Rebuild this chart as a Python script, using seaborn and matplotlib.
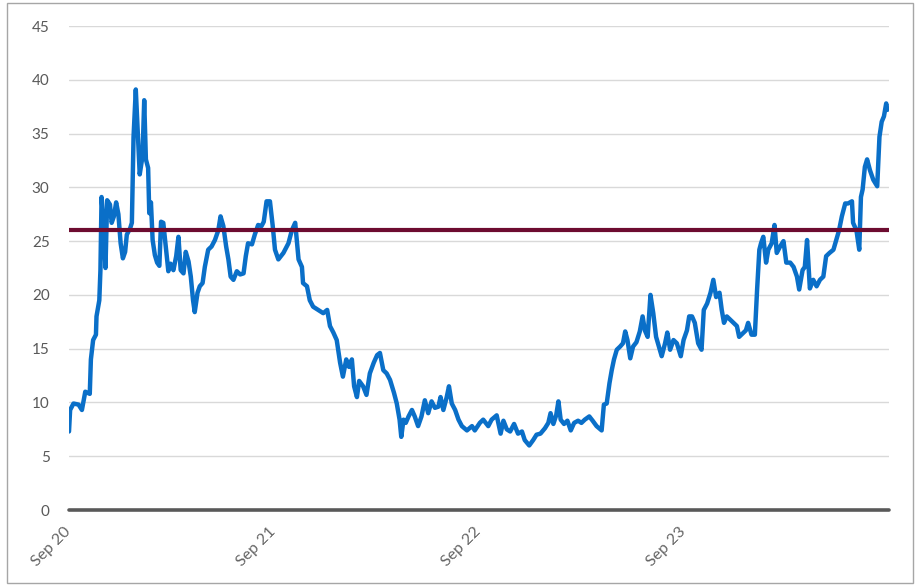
import pandas as pd
import matplotlib
matplotlib.use("Agg")
import matplotlib.pyplot as plt
from matplotlib.patches import Rectangle
import seaborn as sns

# days after 1 Sep 2020, and the value
start = "2020-09-01"
days = [0, 2, 8, 17, 23, 29, 37, 39, 43, 48, 49, 54, 56, 58, 61, 65, 68, 73, 76, 80,
        84, 88, 92, 96, 100, 103, 109, 112, 115, 119, 123, 126, 131, 134, 137, 141, 143, 146, 149, 153,
        157, 161, 164, 168, 173, 177, 181, 186, 191, 195, 199, 204, 208, 213, 217, 221, 224, 229, 233, 238,
        242, 248, 254, 260, 266, 270, 275, 280, 284, 288, 293, 299, 305, 311, 315, 319, 326, 331, 337, 343,
        347, 352, 358, 363, 367, 373, 382, 391, 397, 403, 409, 415, 417, 424, 429, 435, 444, 453, 460, 465,
        471, 477, 483, 488, 494, 499, 504, 508, 513, 517, 524, 530, 536, 543, 549, 554, 560, 566, 572, 579,
        584, 589, 592, 596, 600, 605, 611, 616, 622, 628, 634, 640, 646, 652, 658, 662, 667, 673, 677, 682,
        688, 694, 700, 709, 718, 723, 732, 738, 747, 753, 762, 769, 774, 780, 786, 793, 800, 807, 812, 820,
        827, 833, 840, 848, 854, 858, 863, 868, 872, 876, 882, 888, 894, 900, 907, 913, 919, 927, 933, 940,
        949, 953, 958, 963, 967, 971, 976, 982, 987, 991, 995, 1000, 1005, 1011, 1017, 1022, 1026, 1031, 1036, 1041,
        1046, 1051, 1056, 1062, 1066, 1071, 1077, 1083, 1090, 1095, 1101, 1105, 1110, 1115, 1121, 1127, 1131, 1137, 1143, 1148,
        1153, 1159, 1163, 1167, 1172, 1178, 1184, 1190, 1194, 1200, 1206, 1210, 1216, 1222, 1226, 1230, 1233, 1237, 1242, 1246,
        1252, 1257, 1261, 1267, 1273, 1278, 1285, 1291, 1297, 1301, 1307, 1311, 1315, 1320, 1326, 1332, 1338, 1344, 1349, 1355,
        1362, 1367, 1372, 1377, 1383, 1388, 1395, 1397, 1403, 1408, 1411, 1414, 1418, 1422, 1427, 1433, 1440, 1444, 1448, 1452,
        1456, 1458]
values = [7.3, 9.3, 9.9, 9.8, 9.3, 11.0, 10.8, 14.0, 15.8, 16.3, 18.0, 19.5, 22.3, 29.1, 27.0, 22.5, 28.8, 28.4, 26.7, 27.3,
          28.6, 27.5, 24.8, 23.4, 24.0, 25.6, 26.2, 26.7, 34.7, 39.1, 34.7, 31.2, 32.9, 38.1, 32.6, 31.8, 27.6, 28.6, 25.1, 23.7,
          23.0, 22.7, 26.8, 26.7, 24.2, 22.2, 22.9, 22.3, 23.6, 25.4, 22.3, 22.0, 24.0, 23.1, 21.7, 19.5, 18.4, 20.2, 20.8, 21.1,
          22.6, 24.2, 24.5, 25.1, 26.0, 27.3, 26.4, 24.5, 23.3, 21.7, 21.4, 22.2, 21.9, 22.0, 23.6, 24.8, 24.7, 25.6, 26.5, 26.4,
          26.8, 28.7, 28.7, 26.4, 24.2, 23.3, 23.9, 24.8, 26.0, 26.7, 23.3, 22.6, 21.1, 20.8, 19.5, 18.9, 18.6, 18.3, 18.6, 17.1,
          16.5, 15.8, 13.7, 12.4, 14.0, 13.3, 14.0, 11.5, 10.5, 12.0, 11.5, 10.7, 12.7, 13.7, 14.4, 14.6, 13.0, 12.7, 12.1, 10.9,
          9.9, 8.4, 6.8, 8.4, 8.1, 8.7, 9.3, 8.7, 7.8, 8.7, 10.2, 9.0, 10.1, 9.5, 9.6, 10.5, 9.3, 10.5, 11.5, 9.9,
          9.3, 8.4, 7.8, 7.4, 7.8, 7.4, 8.1, 8.4, 7.8, 8.4, 8.8, 7.1, 8.3, 7.5, 7.3, 8.0, 7.1, 7.3, 6.5, 6.0,
          6.5, 7.0, 7.1, 7.6, 8.1, 9.0, 8.0, 8.8, 10.1, 8.4, 8.0, 8.3, 7.4, 8.1, 8.3, 8.1, 8.4, 8.7, 8.3, 7.8,
          7.4, 9.8, 9.9, 11.8, 13.0, 14.0, 14.9, 15.2, 15.5, 16.6, 15.8, 14.1, 15.2, 15.6, 16.6, 18.0, 16.7, 16.1, 20.0, 18.3,
          16.1, 15.2, 14.3, 15.5, 16.5, 14.9, 15.8, 15.5, 14.3, 15.8, 16.7, 18.0, 18.0, 17.4, 15.5, 14.9, 18.6, 19.2, 20.2, 21.4,
          19.8, 20.2, 18.6, 17.4, 18.0, 17.7, 17.4, 17.1, 16.1, 16.4, 16.7, 17.4, 16.3, 16.3, 20.5, 24.2, 24.8, 25.4, 23.0, 24.2,
          24.8, 26.5, 23.9, 24.5, 25.0, 23.0, 23.0, 22.6, 21.7, 20.5, 22.3, 22.6, 25.1, 20.6, 21.4, 20.8, 21.4, 21.7, 23.6, 23.9,
          24.2, 25.1, 26.0, 27.3, 28.5, 28.5, 28.7, 26.7, 26.0, 24.2, 29.1, 29.8, 31.9, 32.6, 31.6, 30.7, 30.1, 34.7, 36.1, 36.6,
          37.8, 37.2]
threshold = 26
tick_dates = ["2020-09-01", "2021-09-01", "2022-09-01", "2023-09-01"]
tick_labels = ["Sep 20", "Sep 21", "Sep 22", "Sep 23"]

df = pd.DataFrame({
    "date": pd.to_datetime(start) + pd.to_timedelta(days, unit="D"),
    "value": values,
})

sns.set_style("white")
plt.rcParams["font.family"] = ["Lato", "DejaVu Sans"]

fig = plt.figure(figsize=(9.17, 5.86), dpi=100)
ax = fig.add_axes([69 / 917, 76 / 586, 820 / 917, 484 / 586])

sns.lineplot(data=df, x="date", y="value", color="#0a6fc8", linewidth=3.2, ax=ax, zorder=3)
ax.axhline(threshold, color="#6d0c30", linewidth=3, zorder=4)
ax.axhline(0, color="#595959", linewidth=2.6, zorder=5, clip_on=False)

ax.set_ylim(0, 45)
ax.set_yticks(range(0, 50, 5))
ax.set_xlim(pd.Timestamp("2020-09-01"), pd.Timestamp("2024-09-01"))
ax.set_xticks(pd.to_datetime(tick_dates))
ax.set_xticklabels(tick_labels, rotation=45, ha="right", va="center", rotation_mode="anchor")
ax.yaxis.grid(True, color="#d9d9d9", linewidth=1)
ax.xaxis.grid(False)
for s in ax.spines.values():
    s.set_visible(False)
ax.tick_params(axis="y", length=0, pad=14, labelsize=11, labelcolor="#595959")
ax.tick_params(axis="x", length=5, width=1, color="#bfbfbf", pad=9, labelsize=11.5, labelcolor="#666666")
ax.set_xlabel("")
ax.set_ylabel("")

fig.patches.append(Rectangle((7 / 917, 3 / 586), 906 / 917, 580 / 586, transform=fig.transFigure,
                             fill=False, edgecolor="#a6a6a6", linewidth=1))

plt.savefig("out.png", dpi=100)
plt.close()
